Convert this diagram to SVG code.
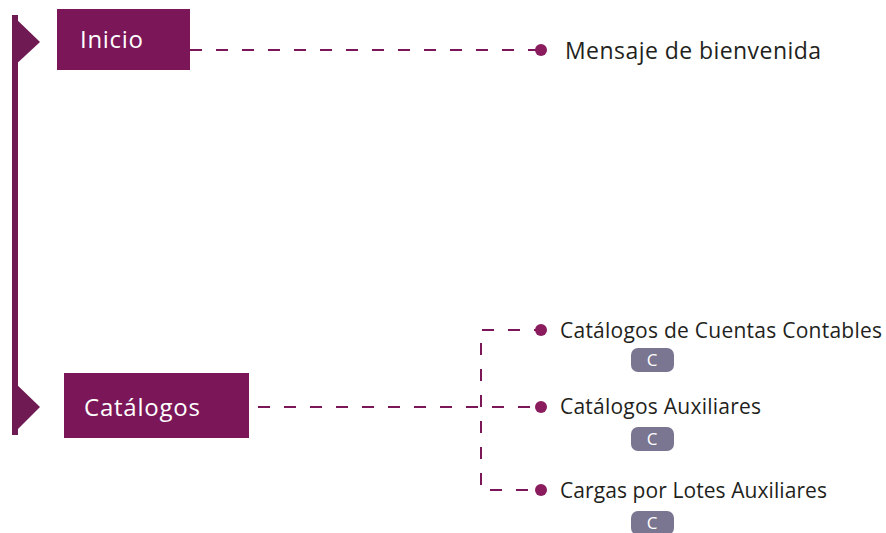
<svg xmlns="http://www.w3.org/2000/svg" width="886" height="533" viewBox="0 0 886 533">
<style>
.box{fill:#7b1758}
.flag{fill:#6f1a52}
.bt{font-family:"Open Sans","Noto Sans",sans-serif;font-size:24px;fill:#ffffff}
.lbl{font-family:"Open Sans","Noto Sans",sans-serif;fill:#231f20}
.dash{stroke:#7b1758;stroke-width:2;fill:none;stroke-dasharray:12 14}
.dot{fill:#8a1c5e}
.badge{fill:#7a7590}
.bc{font-family:"Open Sans","Noto Sans",sans-serif;font-size:17px;fill:#ffffff;text-anchor:middle}
</style>
<rect width="886" height="533" fill="#ffffff"/>
<g id="timeline">
<rect class="flag" x="12" y="15" width="6" height="420"/>
<polygon class="flag" points="12,15 40,42 12,68"/>
<polygon class="flag" points="12,380 40,407 12,435"/>
</g>
<g id="connectors">
<line class="dash" x1="190" y1="50" x2="540" y2="50"/>
<line class="dash" x1="258" y1="407" x2="540" y2="407"/>
<path class="dash" d="M540,330 H481 V490 H540" stroke-dashoffset="6"/>
<circle class="dot" cx="541" cy="50" r="6"/>
<circle class="dot" cx="541" cy="330" r="6"/>
<circle class="dot" cx="541" cy="407" r="6"/>
<circle class="dot" cx="541" cy="490" r="6"/>
</g>
<g id="inicio">
<rect class="box" x="57" y="9" width="133" height="61"/>
<text class="bt" x="80" y="48" textLength="63">Inicio</text>
</g>
<g id="catalogos">
<rect class="box" x="64" y="373" width="185" height="65"/>
<text class="bt" x="84" y="416" textLength="116">Catálogos</text>
</g>
<g id="mensaje">
<text class="lbl" x="565" y="59" font-size="23" textLength="256">Mensaje de bienvenida</text>
</g>
<g id="cuentas">
<text class="lbl" x="560" y="338" font-size="21" textLength="322">Catálogos de Cuentas Contables</text>
<rect class="badge" x="631" y="348" width="43" height="24" rx="7"/>
<text class="bc" x="652" y="366">C</text>
</g>
<g id="auxiliares">
<text class="lbl" x="560" y="414" font-size="21" textLength="201">Catálogos Auxiliares</text>
<rect class="badge" x="631" y="427" width="43" height="24" rx="7"/>
<text class="bc" x="652" y="445">C</text>
</g>
<g id="cargas">
<text class="lbl" x="560" y="498" font-size="21" textLength="267">Cargas por Lotes Auxiliares</text>
<rect class="badge" x="631" y="511" width="43" height="24" rx="7"/>
<text class="bc" x="652" y="529">C</text>
</g>
</svg>
